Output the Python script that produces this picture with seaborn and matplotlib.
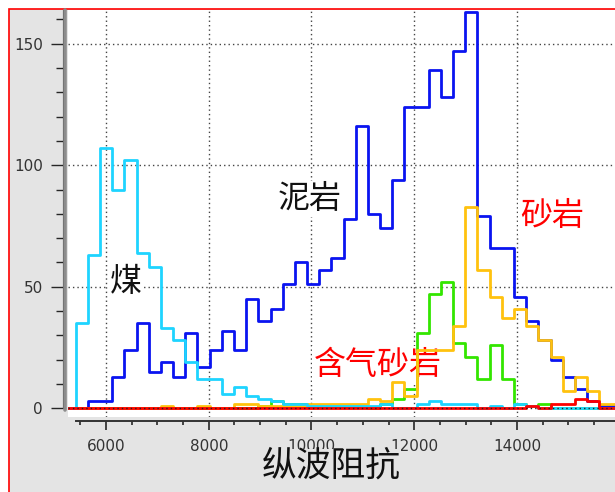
import numpy as np
import pandas as pd
import matplotlib
matplotlib.use("Agg")
import matplotlib.pyplot as plt
from matplotlib.patches import Rectangle
from matplotlib.ticker import MultipleLocator
import seaborn as sns

# 直方图分箱 (第一个箱为空箱, 只用于让曲线从0开始)
bin_start = 5173
bin_width = 237

# 各岩性在每个纵波阻抗箱内的样本数
coal = [0, 35, 63, 107, 90, 102, 64, 58, 33, 28, 19, 12, 12, 6, 9, 5, 4, 3, 2, 2,
        1, 1, 1, 1, 1, 1, 2, 0, 0, 2, 3, 2, 2, 2, 0, 1, 0, 2, 1, 0,
        0, 0, 0, 0, 0, 0]
mudstone = [0, 0, 3, 3, 13, 24, 35, 15, 19, 13, 31, 17, 24, 32, 24, 45, 36, 41, 51, 60,
            51, 57, 62, 78, 116, 80, 74, 94, 124, 124, 139, 128, 147, 163, 79, 66, 66, 46, 36, 28,
            20, 13, 8, 3, 1, 1]
gas_sand = [0, 0, 0, 0, 0, 0, 0, 0, 0, 0, 0, 0, 0, 0, 0, 0, 1, 3, 2, 2,
            1, 1, 1, 1, 1, 0, 2, 4, 8, 31, 47, 52, 27, 21, 12, 26, 12, 2, 1, 2,
            0, 0, 0, 0, 0, 0]
sandstone = [0, 0, 0, 0, 0, 0, 0, 0, 1, 0, 0, 1, 0, 0, 2, 2, 1, 1, 1, 1,
             2, 2, 2, 2, 2, 4, 3, 11, 5, 24, 24, 24, 34, 83, 57, 46, 37, 41, 34, 28,
             21, 7, 13, 7, 2, 2]
other = [0] * 38 + [1, 0, 2, 2, 4, 3, 0, 0]

edges = [bin_start + bin_width * i for i in range(len(coal) + 1)]
centers = [e + bin_width / 2 for e in edges[:-1]]

series = [
    (mudstone, "#0a14f0"),
    (gas_sand, "#33e600"),
    (sandstone, "#ffc20e"),
    (coal, "#1ed4ff"),
    (other, "#ff0000"),
]

sns.set_style("white")
plt.rcParams['font.family'] = ['Noto Sans CJK SC', 'DejaVu Sans']

W, H = 615, 492
fig = plt.figure(figsize=(W / 100, H / 100), dpi=100, facecolor="white")
fig.patches.append(Rectangle((9 / W, -0.1), 1.2, 1 - 9 / H + 0.1, transform=fig.transFigure,
                             facecolor="#e4e4e4", edgecolor="#ff0000", linewidth=1.2, zorder=-1))

ax = fig.add_axes([68 / W, 1 - 416.7 / H, 1 - 68 / W, (416.7 - 10) / H])
ax.set_facecolor("white")

for counts, color in series:
    df = pd.DataFrame({"impedance": centers, "count": np.asarray(counts, dtype=float)})
    sns.histplot(data=df, x="impedance", weights="count", bins=edges, element="step",
                 fill=False, color=color, linewidth=2.0, ax=ax, zorder=3)

ax.set_xlim(5260, 15908)
ax.set_ylim(-3.4, 163.8)

ax.xaxis.set_major_locator(MultipleLocator(2000))
ax.xaxis.set_minor_locator(MultipleLocator(500))
ax.yaxis.set_major_locator(MultipleLocator(50))
ax.yaxis.set_minor_locator(MultipleLocator(10))

# 网格
for gx in range(6000, 16000, 2000):
    ax.axvline(gx, color="#444444", linestyle=(0, (1, 2.2)), linewidth=1.0, zorder=1)
for gy in [50, 100, 150]:
    ax.axhline(gy, color="#444444", linestyle=(0, (1, 2.2)), linewidth=1.0, zorder=1)
ax.axhline(0, color="#222222", linestyle=(0, (1, 2.2)), linewidth=1.0, zorder=4)

# 坐标轴样式
for side in ["top", "right"]:
    ax.spines[side].set_visible(False)
ax.spines["left"].set_position(("outward", 3.8))
ax.spines["left"].set_bounds(0, 163.8)
ax.spines["left"].set_color("#111111")
ax.spines["bottom"].set_position(("outward", 3.2))
ax.spines["bottom"].set_bounds(5410, 15908)
ax.spines["bottom"].set_color("#333333")
ax.spines["bottom"].set_linewidth(1.4)

ax.tick_params(axis="y", which="major", length=8.4, width=1.0, pad=6, labelsize=11,
               labelcolor="#333333", left=True)
ax.tick_params(axis="y", which="minor", length=4.8, width=1.0, left=True)
ax.tick_params(axis="x", which="major", length=6.5, width=1.2, pad=6, labelsize=11,
               labelcolor="#333333", bottom=True)
ax.tick_params(axis="x", which="minor", length=2.8, width=1.2, bottom=True)
for lab in ax.get_xticklabels() + ax.get_yticklabels():
    lab.set_family("DejaVu Sans")

ax.plot([-3 / 547, -3 / 547], [0.017, 1], transform=ax.transAxes, color="#8c8c8c",
        linewidth=2.6, clip_on=False, zorder=5)

# 横轴标题 (原图中标题的灰底压住了部分刻度标签)
ax.set_ylabel("")
ax.set_xlabel("纵波阻抗", fontsize=25, color="#111111", va="center",
              bbox=dict(facecolor="#e4e4e4", edgecolor="none", pad=0))
ax.xaxis.set_label_coords((331 - 68) / 547, (416.7 - 466) / 406.7)

box = dict(facecolor="white", edgecolor="none", pad=1.5)
ax.text(9972, 86, "泥岩", fontsize=23, color="#111111", ha="center", va="center", bbox=box, zorder=2)
ax.text(6389, 52, "煤", fontsize=23, color="#111111", ha="center", va="center", bbox=box, zorder=2)
ax.text(14684, 79, "砂岩", fontsize=23, color="#ff0000", ha="center", va="center", bbox=box, zorder=2)
ax.text(11296, 18, "含气砂岩", fontsize=23, color="#ff0000", ha="center", va="center", bbox=box, zorder=2)

fig.savefig("out.png", dpi=100, facecolor=fig.get_facecolor())
